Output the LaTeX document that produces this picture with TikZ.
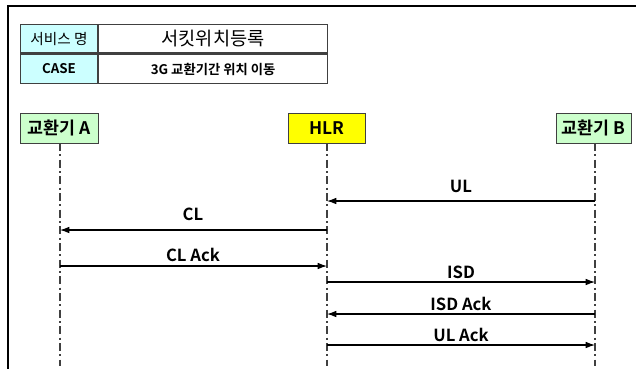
\documentclass[tikz,border=0pt]{standalone}
\usepackage{fontspec}
\setmainfont{Noto Sans CJK KR}[BoldFont={Noto Sans CJK KR Bold}]
\usetikzlibrary{arrows.meta}
\definecolor{kutuYesil}{HTML}{CCFFCC}
\definecolor{hlrSari}{HTML}{FFFF00}
\definecolor{tabloMavi}{HTML}{CCFFFF}
\definecolor{cizgi}{HTML}{404040}
\tikzset{
  cell/.style={draw=cizgi,thick,inner sep=0pt,font=\bfseries\fontsize{10}{12}\selectfont},
  head/.style={draw=cizgi,inner sep=0pt,minimum height=22.5pt,font=\bfseries\fontsize{13}{15}\selectfont},
  life/.style={cizgi,line width=0.8pt,dash pattern=on 6pt off 2.5pt on 1.5pt off 2.5pt},
  msg/.style={thick,-{Latex[length=7pt,width=5pt]}},
  lbl/.style={font=\bfseries\fontsize{12.5}{14}\selectfont,inner sep=0pt}
}
\begin{document}
\begin{tikzpicture}[x=0.75pt,y=-0.75pt]
\useasboundingbox (0,0) rectangle (636,369);
\draw[line width=1.5pt] (636,6) -- (8,6) -- (8,369);
% tablo
\node[cell,fill=tabloMavi,minimum width=57.75pt,minimum height=21pt,anchor=north west,font=\fontsize{11}{13}\selectfont] (t11) at (20,24) {서비스 명};
\node[cell,minimum width=171.75pt,minimum height=21pt,anchor=north west,font=\fontsize{14}{16}\selectfont] (t12) at (t11.north east) {서킷위치등록};
\node[cell,fill=tabloMavi,minimum width=57.75pt,minimum height=21.75pt,anchor=north west] (t21) at (20,54) {CASE};
\node[cell,minimum width=171.75pt,minimum height=21.75pt,anchor=north west] (t22) at (t21.north east) {3G 교환기간 위치 이동};
\draw[cizgi,thick] (t11.south west) -- (t12.south east);
% basliklar
\node[head,fill=kutuYesil,minimum width=58.5pt] (a) at (59,128) {교환기 A};
\node[head,fill=hlrSari,minimum width=57.75pt] (hlr) at (326.5,128) {HLR};
\node[head,fill=kutuYesil,minimum width=56.25pt] (b) at (593.5,128) {교환기 B};
\coordinate (aEnd) at (60,366);
\coordinate (hlrEnd) at (327,366);
\coordinate (bEnd) at (595,366);
\draw[life] (60,143) -- (aEnd);
\draw[life] (327,143) -- (hlrEnd);
\draw[life] (595,143) -- (bEnd);
% mesajlar
\draw[msg] (bEnd |- 0,201) -- (hlrEnd |- 0,201);
\draw[msg] (hlrEnd |- 0,230) -- (aEnd |- 0,230);
\draw[msg] (aEnd |- 0,266) -- (hlrEnd |- 0,266);
\draw[msg] (hlrEnd |- 0,282) -- (bEnd |- 0,282);
\draw[msg] (bEnd |- 0,314) -- (hlrEnd |- 0,314);
\draw[msg] (hlrEnd |- 0,345) -- (bEnd |- 0,345);
\node[lbl] (ul) at (461,186) {UL};
\node[lbl] (cl) at (193,214) {CL};
\node[lbl] (clack) at (193,255) {CL Ack};
\node[lbl] (isd) at (461,272) {ISD};
\node[lbl] (isdack) at (461,304) {ISD Ack};
\node[lbl] (ulack) at (461,335) {UL Ack};
\end{tikzpicture}
\end{document}
